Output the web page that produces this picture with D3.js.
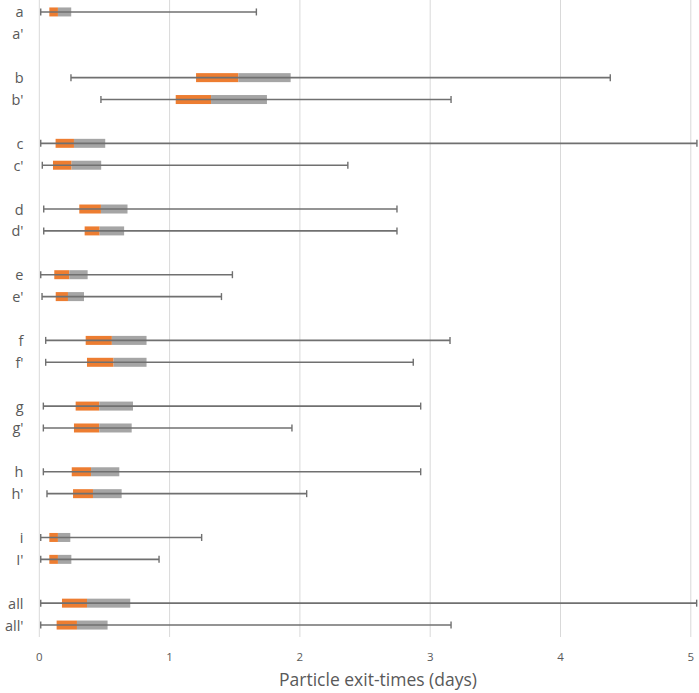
<!DOCTYPE html>
<html>
<head>
<meta charset="utf-8">
<script src="https://cdn.jsdelivr.net/npm/d3@7/dist/d3.min.js"></script>
<style>
  html, body { margin: 0; padding: 0; background: #fff; }
  svg { display: block; }
  text { font-family: "Open Sans", "Noto Sans", sans-serif; fill: #595959; }
</style>
</head>
<body>
<svg id="chart" width="699" height="693"></svg>
<script>
// ---- data (days) ----
const categories = ["a", "a'", "b", "b'", "c", "c'", "d", "d'", "e", "e'", "f", "f'", "g", "g'", "h", "h'", "i", "I'", "all", "all'"];
const mins    = [0.011, null, 0.243, 0.473, 0.011, 0.023, 0.034, 0.034, 0.011, 0.021, 0.049, 0.049, 0.031, 0.031, 0.031, 0.059, 0.011, 0.011, 0.011, 0.011];
const q1s     = [0.077, null, 1.203, 1.047, 0.125, 0.105, 0.307, 0.348, 0.115, 0.126, 0.356, 0.366, 0.279, 0.266, 0.249, 0.259, 0.077, 0.077, 0.174, 0.133];
const medians = [0.143, null, 1.528, 1.318, 0.266, 0.248, 0.473, 0.463, 0.230, 0.220, 0.557, 0.570, 0.460, 0.460, 0.397, 0.412, 0.143, 0.143, 0.366, 0.289];
const q3s     = [0.245, null, 1.929, 1.747, 0.506, 0.475, 0.677, 0.651, 0.371, 0.343, 0.823, 0.823, 0.719, 0.709, 0.614, 0.632, 0.238, 0.246, 0.698, 0.524];
const maxs    = [1.666, null, 4.382, 3.160, 5.047, 2.368, 2.745, 2.745, 1.482, 1.398, 3.152, 2.870, 2.927, 1.939, 2.927, 2.052, 1.246, 0.919, 5.045, 3.160];
const xTicks  = [0, 1, 2, 3, 4, 5];
const xTitle  = "Particle exit-times (days)";

// ---- layout ----
const svg = d3.select("#chart");
const plot = { left: 39.3, right: 690.8, top: 1, bottom: 636 };

// slots: categories in pairs with a blank spacer between groups
const slots = [];
categories.forEach((c, i) => {
  slots.push(c);
  if (i % 2 === 1 && i < categories.length - 1) slots.push("__gap" + i);
});

const x = d3.scaleLinear().domain([0, 5]).range([plot.left, plot.right]);
const y = d3.scaleBand().domain(slots).range([plot.top, plot.bottom]).padding(0);

// gridlines
svg.append("g").selectAll("line").data(xTicks).join("line")
  .attr("x1", d => x(d)).attr("x2", d => x(d))
  .attr("y1", 0).attr("y2", plot.bottom + 1)
  .attr("stroke", "#d9d9d9").attr("stroke-width", 1);

// tick labels
svg.append("g").selectAll("text").data(xTicks).join("text")
  .attr("x", d => x(d)).attr("y", 660.5)
  .attr("text-anchor", "middle")
  .style("font-size", "11.5px")
  .text(d => d);

// axis title
svg.append("text")
  .attr("x", 378).attr("y", 686)
  .attr("text-anchor", "middle")
  .style("font-size", "17.5px")
  .text(xTitle);

// category labels
svg.append("g").selectAll("text").data(categories).join("text")
  .attr("x", 23.5).attr("y", d => y(d) + y.bandwidth() / 2 + 5.5)
  .attr("text-anchor", "end")
  .style("font-size", "14.5px")
  .text(d => d);

const rows = categories.map((c, i) => ({ c, min: mins[i], q1: q1s[i], med: medians[i], q3: q3s[i], max: maxs[i] }))
  .filter(d => d.min !== null);

const boxH = 9;
const cy = d => y(d.c) + y.bandwidth() / 2;

// lower box (Q1 - median)
svg.append("g").selectAll("rect").data(rows).join("rect")
  .attr("x", d => x(d.q1)).attr("width", d => x(d.med) - x(d.q1))
  .attr("y", d => cy(d) - boxH / 2).attr("height", boxH)
  .attr("fill", "#ED7D31");

// upper box (median - Q3)
svg.append("g").selectAll("rect").data(rows).join("rect")
  .attr("x", d => x(d.med)).attr("width", d => x(d.q3) - x(d.med))
  .attr("y", d => cy(d) - boxH / 2).attr("height", boxH)
  .attr("fill", "#A5A5A5");

// whiskers
const wColor = "#707070";
const wg = svg.append("g");
wg.selectAll("line.w").data(rows).join("line").attr("class", "w")
  .attr("x1", d => x(d.min)).attr("x2", d => x(d.max))
  .attr("y1", cy).attr("y2", cy)
  .attr("stroke", wColor).attr("stroke-width", 1.6);
wg.selectAll("line.cmin").data(rows).join("line").attr("class", "cmin")
  .attr("x1", d => x(d.min)).attr("x2", d => x(d.min))
  .attr("y1", d => cy(d) - 3.5).attr("y2", d => cy(d) + 3.5)
  .attr("stroke", wColor).attr("stroke-width", 1.4);
wg.selectAll("line.cmax").data(rows).join("line").attr("class", "cmax")
  .attr("x1", d => x(d.max)).attr("x2", d => x(d.max))
  .attr("y1", d => cy(d) - 3.5).attr("y2", d => cy(d) + 3.5)
  .attr("stroke", wColor).attr("stroke-width", 1.4);
</script>
</body>
</html>
